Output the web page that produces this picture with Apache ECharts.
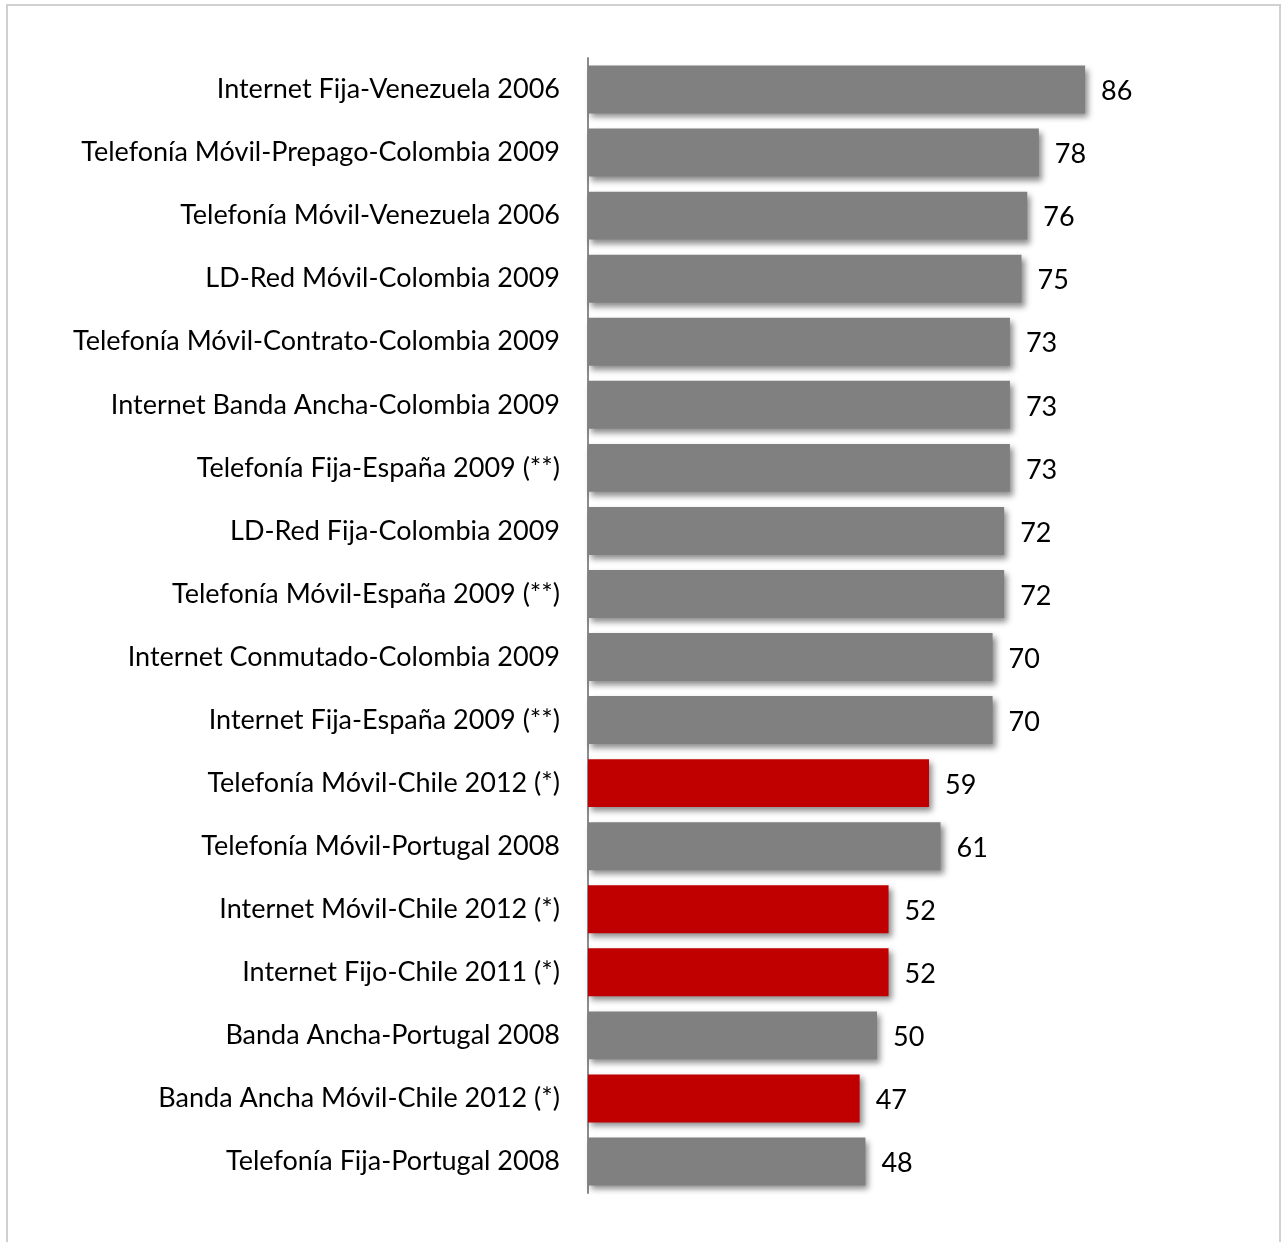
<!DOCTYPE html>
<html>
<head>
<meta charset="utf-8">
<script src="https://cdn.jsdelivr.net/npm/echarts@6/dist/echarts.min.js"></script>
<style>
  html, body { margin: 0; padding: 0; background: #fff; }
  #main { width: 1283px; height: 1242px; }
</style>
</head>
<body>
<div id="main"></div>
<script>
var categories = [
  "Internet Fija-Venezuela 2006",
  "Telefonía Móvil-Prepago-Colombia 2009",
  "Telefonía Móvil-Venezuela 2006",
  "LD-Red Móvil-Colombia 2009",
  "Telefonía Móvil-Contrato-Colombia 2009",
  "Internet Banda Ancha-Colombia 2009",
  "Telefonía Fija-España 2009 (**)",
  "LD-Red Fija-Colombia 2009",
  "Telefonía Móvil-España 2009 (**)",
  "Internet Conmutado-Colombia 2009",
  "Internet Fija-España 2009 (**)",
  "Telefonía Móvil-Chile 2012 (*)",
  "Telefonía Móvil-Portugal 2008",
  "Internet Móvil-Chile 2012 (*)",
  "Internet Fijo-Chile 2011 (*)",
  "Banda Ancha-Portugal 2008",
  "Banda Ancha Móvil-Chile 2012 (*)",
  "Telefonía Fija-Portugal 2008"
];
var values = [86, 78, 76, 75, 73, 73, 73, 72, 72, 70, 70, 59, 61, 52, 52, 50, 47, 48];
// true = Chile rows, drawn in red
var highlight = [false, false, false, false, false, false, false, false, false, false, false,
  true, false, true, true, false, true, false];

var myChart = echarts.init(document.getElementById("main"));

var barData = values.map(function (v, i) {
  return {
    value: v,
    itemStyle: { color: highlight[i] ? "#C00000" : "#808080" }
  };
});

var option = {
  backgroundColor: "#fff",
  animation: false,
  graphic: [
    {
      type: "rect",
      shape: { x: 7, y: 5, width: 1273, height: 1250 },
      style: { fill: "none", stroke: "#d0d0d0", lineWidth: 2 },
      silent: true
    }
  ],
  grid: {
    left: 588,
    top: 58,
    width: 578,
    height: 1135
  },
  xAxis: {
    type: "value",
    min: 0,
    max: 100,
    show: false
  },
  yAxis: {
    type: "category",
    inverse: true,
    data: categories,
    axisTick: { show: false },
    axisLine: { lineStyle: { color: "#8c8c8c", width: 2 } },
    axisLabel: {
      margin: 28,
      fontFamily: "Lato",
      fontSize: 27,
      color: "#000"
    }
  },
  series: [
    {
      type: "bar",
      data: barData,
      barCategoryGap: "24%",
      itemStyle: {
        shadowColor: "rgba(0,0,0,0.45)",
        shadowBlur: 6,
        shadowOffsetX: 3,
        shadowOffsetY: 4
      },
      label: {
        show: true,
        position: "right",
        distance: 16,
        offset: [0, 2],
        fontFamily: "Lato",
        fontSize: 27,
        color: "#000"
      }
    }
  ]
};

myChart.setOption(option);
</script>
</body>
</html>
